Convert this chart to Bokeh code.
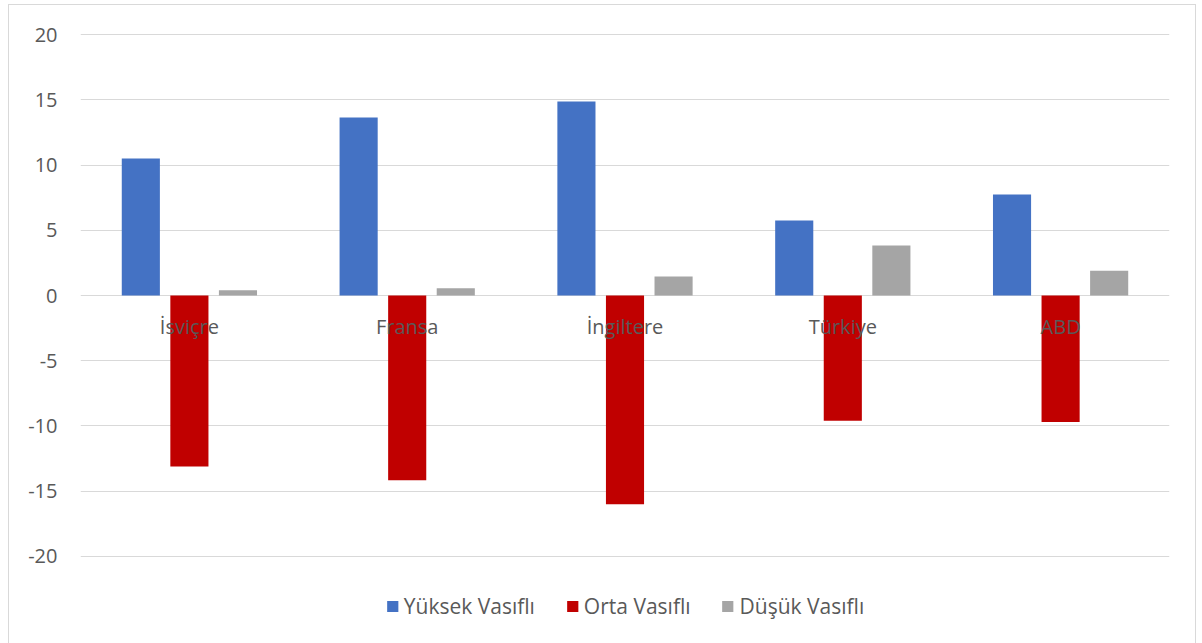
from bokeh.plotting import figure
from bokeh.models import ColumnDataSource, FactorRange, Legend, LegendItem, FixedTicker, CustomJSTickFormatter
from bokeh.transform import dodge
from bokeh.core.properties import value
from bokeh.embed import file_html
from bokeh.resources import INLINE

countries = ["İsviçre", "Fransa", "İngiltere", "Türkiye", "ABD"]
yuksek = [10.5, 13.65, 14.87, 5.75, 7.75]
orta = [-13.1, -14.15, -16.0, -9.6, -9.7]
dusuk = [0.4, 0.55, 1.45, 3.83, 1.9]
series_names = ["Yüksek Vasıflı", "Orta Vasıflı", "Düşük Vasıflı"]
y_ticks = [-20, -15, -10, -5, 0, 5, 10, 15, 20]
colors = ["#4472C4", "#C00000", "#A5A5A5"]

FONT = "Open Sans"
TXT = "#595959"

src = ColumnDataSource(dict(cat=countries, y=yuksek, o=orta, d=dusuk, zero=[0] * len(countries)))

p = figure(width=1188, height=642, x_range=FactorRange(*countries), y_range=(-26.44, 20.31),
           output_backend="svg", toolbar_location=None,
           min_border_left=71, min_border_right=28, min_border_top=25, min_border_bottom=7)
p.styles = {"margin-left": "8px", "margin-top": "4px", "border": "1px solid #d9d9d9"}
p.outline_line_color = None
p.xaxis.visible = False
p.xgrid.visible = False
p.ygrid.grid_line_color = "#d9d9d9"
p.ygrid.grid_line_width = 1
p.yaxis.ticker = FixedTicker(ticks=y_ticks)
p.yaxis.formatter = CustomJSTickFormatter(code="return String(tick);")
p.yaxis.axis_line_color = None
p.yaxis.major_tick_line_color = None
p.yaxis.minor_tick_line_color = None
p.yaxis.major_tick_out = 0
p.yaxis.major_tick_in = 0
p.yaxis.major_label_text_color = TXT
p.yaxis.major_label_text_font = FONT
p.yaxis.major_label_text_font_size = "20px"
p.yaxis.major_label_standoff = 23

offs = [-0.223, 0.0, 0.223]
cols = ["y", "o", "d"]
renderers = []
for c, off, col in zip(cols, offs, colors):
    r = p.vbar(x=dodge("cat", off, range=p.x_range), top=c, bottom=0, width=0.175, source=src,
               fill_color=col, line_color=None)
    renderers.append(r)

p.text(x="cat", y="zero", text="cat", source=src, text_align="center", text_baseline="middle",
       y_offset=31, text_color=TXT, text_font=value(FONT), text_font_size="20px")

legend = Legend(items=[LegendItem(label=n, renderers=[r]) for n, r in zip(series_names, renderers)],
                orientation="horizontal", location="bottom_center", border_line_color=None,
                background_fill_alpha=0,
                label_text_color=TXT, label_text_font=FONT, label_text_font_size="21px",
                glyph_width=14, glyph_height=14, label_standoff=5, spacing=30,
                padding=0, margin=20, label_height=20)
p.add_layout(legend)

open("out.html", "w").write(file_html(p, INLINE))
